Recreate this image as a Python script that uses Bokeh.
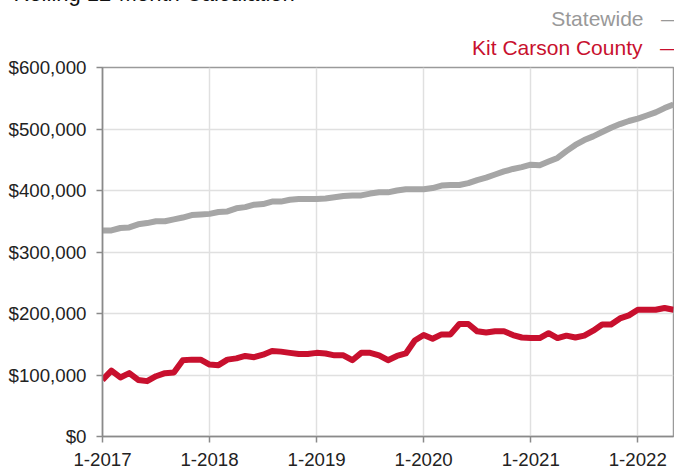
from bokeh.plotting import figure
from bokeh.models import Range1d, FixedTicker, NumeralTickFormatter, Title, ColumnDataSource
from bokeh.embed import file_html
from bokeh.resources import INLINE

# ---- data (median sales price, rolling 12 months, in $ thousands) ----
month_index = list(range(65))  # 1-2017 ... 5-2022
statewide = [335, 335, 339, 340, 345, 347, 350, 350, 353, 356, 360, 361,
             362, 365, 366, 371, 373, 377, 378, 382, 382, 385, 386, 386,
             386, 387, 389, 391, 392, 392, 395, 397, 397, 400, 402, 402,
             402, 404, 408, 409, 409, 412, 417, 421, 426, 431, 435, 438,
             442, 441, 447, 453, 464, 474, 482, 488, 495, 502, 508, 513,
             517, 522, 527, 534, 540]
kit_carson = [92, 107, 96, 103, 92, 90, 98, 103, 104, 124, 125, 125,
              117, 116, 125, 127, 131, 129, 133, 139, 138, 136, 134, 134,
              136, 135, 132, 132, 124, 136, 136, 132, 124, 131, 135, 156,
              165, 159, 166, 166, 183, 183, 171, 169, 171, 171, 165, 161,
              160, 160, 168, 160, 164, 161, 164, 172, 182, 182, 192, 197,
              206, 206, 206, 209, 206]
x_tick_positions = [0, 12, 24, 36, 48, 60]
x_tick_labels = ["1-2017", "1-2018", "1-2019", "1-2020", "1-2021", "1-2022"]
y_ticks = [0, 100000, 200000, 300000, 400000, 500000, 600000]
series_names = ["Statewide", "Kit Carson County"]
title_text = "Rolling 12-Month Calculation"

GRAY = "#a6a6a6"
GRAY_TEXT = "#999999"
RED = "#c8102e"
FONT = "Liberation Sans"

# hidden strip above / below the visible window (page is shifted by these)
HIDE_TOP = 20
HIDE_BOTTOM = 12

source = ColumnDataSource(dict(
    x=month_index,
    state=[v * 1000 for v in statewide],
    kit=[v * 1000 for v in kit_carson],
))

p = figure(width=674, height=468 + HIDE_TOP + HIDE_BOTTOM,
           output_backend="svg", toolbar_location=None, title=None,
           x_range=Range1d(0, 64), y_range=Range1d(0, 600000),
           min_border_left=102, min_border_right=1,
           min_border_top=67 + HIDE_TOP, min_border_bottom=32 + HIDE_BOTTOM,
           styles={"margin-top": f"-{HIDE_TOP}px",
                   "margin-bottom": f"-{HIDE_BOTTOM}px"})

p.background_fill_color = "white"
p.border_fill_color = "white"
p.outline_line_color = "#9a9a9a"
p.outline_line_width = 1.5

p.line("x", "state", source=source, line_color=GRAY, line_width=6,
       line_join="round")
p.line("x", "kit", source=source, line_color=RED, line_width=6,
       line_join="round")

for ax in (p.xaxis[0], p.yaxis[0]):
    ax.major_label_text_font = FONT
    ax.major_label_text_font_size = "18.7px"
    ax.major_label_text_color = "#222222"
    ax.axis_line_color = "#8a8a8a"
    ax.axis_line_width = 1.5
    ax.major_tick_line_color = "#8a8a8a"
    ax.major_tick_line_width = 1.5
    ax.major_tick_out = 6
    ax.major_tick_in = 0
    ax.minor_tick_line_color = None

p.xaxis.ticker = FixedTicker(ticks=x_tick_positions)
p.xaxis.major_label_overrides = dict(zip(x_tick_positions, x_tick_labels))
p.xaxis.major_label_standoff = 10
p.yaxis.ticker = FixedTicker(ticks=y_ticks)
p.yaxis.formatter = NumeralTickFormatter(format="$0,0")
p.yaxis.major_label_standoff = 10

p.xgrid.grid_line_color = "#e0e0e0"
p.ygrid.grid_line_color = "#e0e0e0"
p.xgrid.grid_line_width = 1.5
p.ygrid.grid_line_width = 1.5

# legend entries as stacked titles (nearest the frame first)
NB = "\u00a0\u00a0\u00a0"
p.add_layout(Title(text=series_names[1] + NB + "\u2014", align="right",
                   vertical_align="top", standoff=13, offset=-7.5,
                   text_font=FONT, text_font_size="21px",
                   text_font_style="normal", text_color=RED), "above")
p.add_layout(Title(text=series_names[0] + NB + "\u2014", align="right",
                   vertical_align="bottom", standoff=0, offset=-8.5,
                   text_font=FONT, text_font_size="21px",
                   text_font_style="normal", text_color=GRAY_TEXT), "above")
# chart title, mostly hidden above the visible window
p.add_layout(Title(text=title_text, align="left", vertical_align="bottom",
                   standoff=-3, offset=-89,
                   text_font=FONT, text_font_size="22px",
                   text_font_style="normal", text_color="#111111"), "above")

open("out.html", "w").write(file_html(p, INLINE))
